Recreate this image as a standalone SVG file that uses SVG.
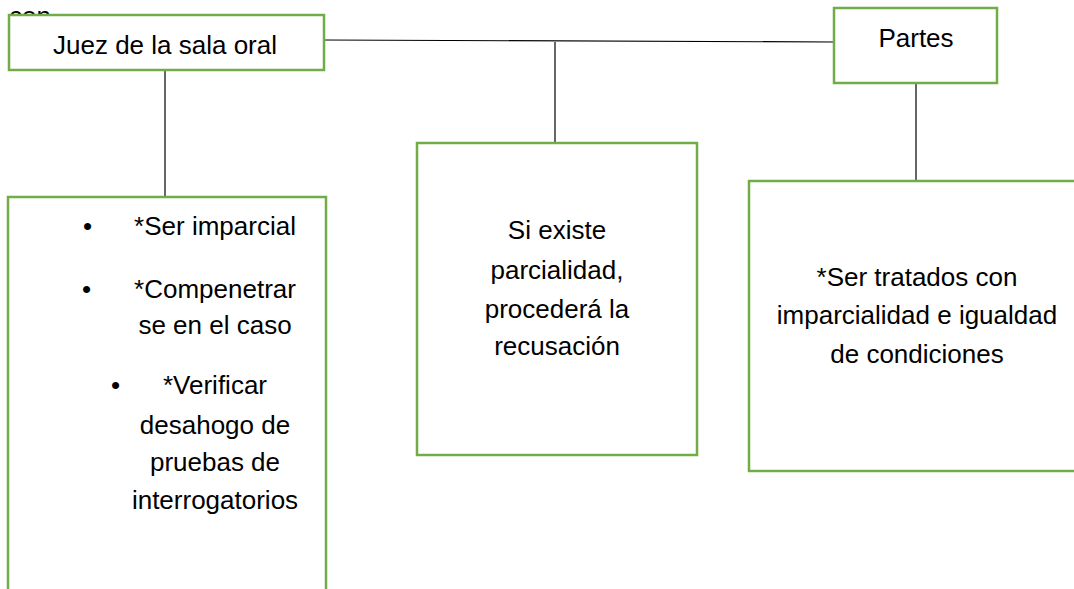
<svg xmlns="http://www.w3.org/2000/svg" width="1074" height="589" viewBox="0 0 1074 589">
<style>
.box{fill:#ffffff;stroke:#70AD47;stroke-width:2.5}
.t{font-family:"Liberation Sans",Arial,sans-serif;font-size:26px;fill:#000000;text-anchor:middle}
.l{font-family:"Liberation Sans",Arial,sans-serif;font-size:26px;fill:#000000}
.c{stroke:#000000;stroke-width:1.2;fill:none}
</style>
<rect width="1074" height="589" fill="#ffffff"/>
<text class="l" x="9" y="25">con</text>
<g id="connectors">
<line class="c" x1="324" y1="40" x2="834" y2="42"/>
<line class="c" x1="555" y1="42" x2="555" y2="143"/>
<line class="c" x1="165" y1="70" x2="165" y2="197"/>
<line class="c" x1="916" y1="83" x2="916" y2="181"/>
</g>
<g id="juez">
<rect class="box" x="9" y="15" width="315" height="55"/>
<text class="t" x="165" y="54">Juez de la sala oral</text>
</g>
<g id="partes">
<rect class="box" x="834" y="8" width="163" height="75"/>
<text class="t" x="916" y="47">Partes</text>
</g>
<g id="deberes-juez">
<rect class="box" x="8" y="197" width="318" height="420"/>
<text class="l" x="83" y="235">•</text>
<text class="t" x="215" y="235">*Ser imparcial</text>
<text class="l" x="82" y="298">•</text>
<text class="t" x="215" y="298">*Compenetrar</text>
<text class="t" x="215" y="334">se en el caso</text>
<text class="l" x="111" y="394">•</text>
<text class="t" x="215" y="394">*Verificar</text>
<text class="t" x="215" y="434">desahogo de</text>
<text class="t" x="215" y="471">pruebas de</text>
<text class="t" x="215" y="509">interrogatorios</text>
</g>
<g id="recusacion">
<rect class="box" x="417" y="143" width="280" height="312"/>
<text class="t" x="557" y="239">Si existe</text>
<text class="t" x="557" y="279">parcialidad,</text>
<text class="t" x="557" y="318">procederá la</text>
<text class="t" x="557" y="355">recusación</text>
</g>
<g id="derechos-partes">
<rect class="box" x="749" y="181" width="340" height="290"/>
<text class="t" x="917" y="286">*Ser tratados con</text>
<text class="t" x="917" y="324">imparcialidad e igualdad</text>
<text class="t" x="917" y="363">de condiciones</text>
</g>
</svg>
